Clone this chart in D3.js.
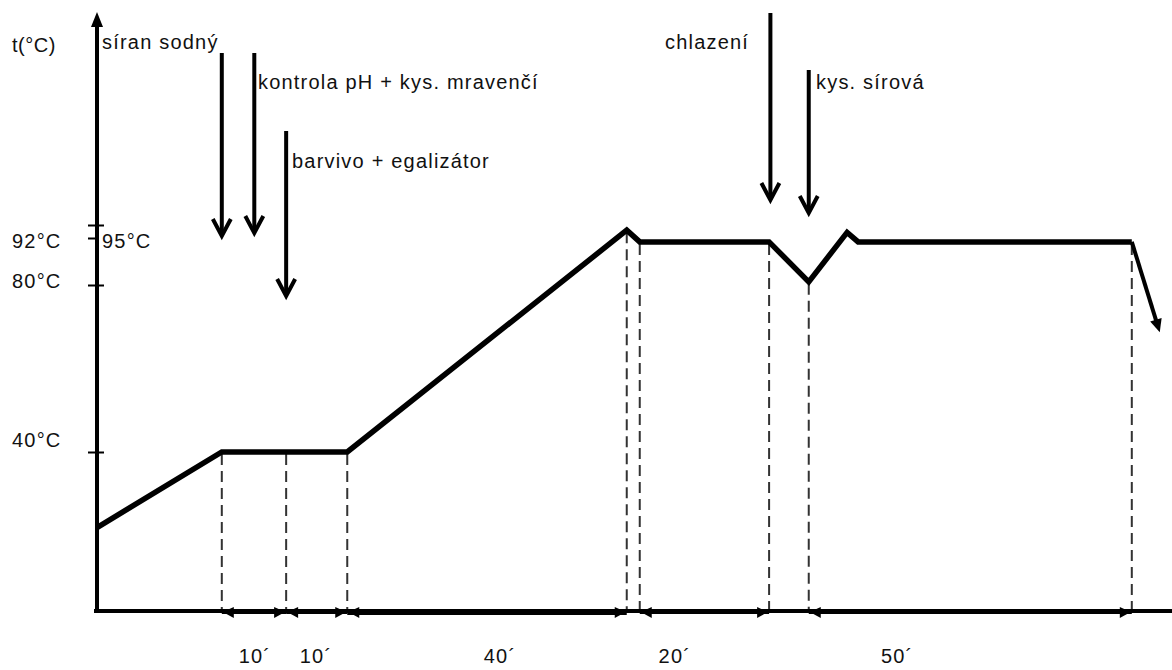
<!DOCTYPE html>
<html>
<head>
<meta charset="utf-8">
<script src="https://cdn.jsdelivr.net/npm/d3@7"></script>
<style>
  body { margin: 0; background: #fff; }
  text { font-family: "Liberation Sans", Arial, sans-serif; font-size: 20px; letter-spacing: 1.2px; fill: #111; }
</style>
</head>
<body>
<script>
// Width and height
var w = 1172;
var h = 670;

// Temperature profile (time in minutes, temperature in °C)
var profileTime = [0, 19.2, 38.5, 81.5, 83.5, 103.4, 109.5, 115.4, 117.1, 159.2];
var profileTemp = [21, 40, 40, 93.8, 91, 91, 80.8, 93.3, 91, 91];
// final cooling arrow
var coolTime = [159.2, 163.5];
var coolTemp = [91, 68.7];

// Dashed guides
var guideTime = [19.2, 29.1, 38.5, 81.5, 83.5, 103.4, 109.5, 159.2];

// Duration spans
var spanStart = [19.2, 29.1, 38.5, 83.5, 109.5];
var spanEnd = [29.1, 38.5, 81.5, 103.4, 159.2];
var spanLabels = ["10´", "10´", "40´", "20´", "50´"];
var spanLabelTime = [24.3, 33.7, 62, 88.9, 123.1];

// Y ticks
var yTicks = [40, 80, 92, 95];
var yTickLabels = ["40°C", "80°C", "92°C", "95°C"];

// Events (dosing / cooling)
var eventLabels = ["síran sodný", "kontrola pH + kys. mravenčí", "barvivo + egalizátor", "chlazení", "kys. sírová"];
var eventTime = [19.2, 24.2, 29.1, 103.6, 109.5];

// Scales
var xScale = d3.scaleLinear()
  .domain([0, 160])
  .range([97, 1137]);

var yScale = d3.scaleLinear()
  .domain([0, 40, 80, 92, 95])
  .range([611, 452, 285, 238, 225]);

var svg = d3.select("body")
  .append("svg")
  .attr("width", w)
  .attr("height", h);

// Dashed guides from curve down to the axis
var profile = profileTime.map(function(t, i) { return [t, profileTemp[i]]; });
function tempAt(t) {
  for (var i = 1; i < profile.length; i++) {
    if (t <= profile[i][0] + 1e-9) {
      var a = profile[i - 1], b = profile[i];
      return a[1] + (b[1] - a[1]) * (t - a[0]) / (b[0] - a[0]);
    }
  }
  return profile[profile.length - 1][1];
}

svg.selectAll("line.guide")
  .data(guideTime)
  .enter()
  .append("line")
  .attr("class", "guide")
  .attr("x1", function(d) { return xScale(d); })
  .attr("x2", function(d) { return xScale(d); })
  .attr("y1", function(d) { return yScale(tempAt(d)) + 2; })
  .attr("y2", yScale(0))
  .attr("stroke", "#333")
  .attr("stroke-width", 2)
  .attr("stroke-dasharray", "11,6");

// X axis
svg.append("line")
  .attr("x1", xScale(0) - 3)
  .attr("x2", w)
  .attr("y1", yScale(0))
  .attr("y2", yScale(0))
  .attr("stroke", "#000")
  .attr("stroke-width", 4);

// Y axis (with ticks)
var yAxis = d3.axisLeft(yScale)
  .tickValues(yTicks)
  .tickSize(9)
  .tickFormat("");

svg.append("g")
  .attr("transform", "translate(" + xScale(0) + ",0)")
  .call(yAxis)
  .call(function(g) { g.select(".domain").remove(); })
  .call(function(g) {
    g.selectAll(".tick line")
      .attr("x1", function(d) { return d === 92 ? 1 : 7; })
      .attr("stroke", "#000")
      .attr("stroke-width", 2);
  });

svg.append("line")
  .attr("x1", xScale(0))
  .attr("x2", xScale(0))
  .attr("y1", yScale(0) + 2)
  .attr("y2", 22)
  .attr("stroke", "#000")
  .attr("stroke-width", 4);

svg.append("path")
  .attr("d", "M" + (xScale(0) - 6) + ",27 L" + xScale(0) + ",12 L" + (xScale(0) + 6) + ",27 Z")
  .attr("fill", "#000");

// Y tick labels
svg.selectAll("text.ylab")
  .data(yTicks)
  .enter()
  .append("text")
  .attr("class", "ylab")
  .attr("x", function(d) { return d === 95 ? xScale(0) + 5 : 12; })
  .attr("y", function(d) { return d >= 92 ? yScale(92) + 10 : yScale(d) + 3 - (d === 40 ? 8 : 0); })
  .text(function(d, i) { return yTickLabels[i]; });

svg.append("text")
  .attr("x", 12)
  .attr("y", 52)
  .style("letter-spacing", "0.5px")
  .text("t(°C)");

// Duration spans with arrowheads on the axis
var spans = spanStart.map(function(s, i) { return { s: s, e: spanEnd[i], label: spanLabels[i], lt: spanLabelTime[i] }; });

svg.selectAll("line.span")
  .data(spans)
  .enter()
  .append("line")
  .attr("class", "span")
  .attr("x1", function(d) { return xScale(d.s); })
  .attr("x2", function(d) { return xScale(d.e); })
  .attr("y1", yScale(0) + 1)
  .attr("y2", yScale(0) + 1)
  .attr("stroke", "#000")
  .attr("stroke-width", function(d) { return d.label === "40´" ? 6 : 4; });

function headPath(x, y, dir) {
  // filled triangle, tip at x, pointing dir (+1 right, -1 left)
  return "M" + x + "," + y + " L" + (x - dir * 11) + "," + (y - 5) + " L" + (x - dir * 11) + "," + (y + 6) + " Z";
}

svg.selectAll("path.headL")
  .data(spans)
  .enter()
  .append("path")
  .attr("class", "headL")
  .attr("d", function(d) { return headPath(xScale(d.s) + 1, yScale(0) + 1, -1); })
  .attr("fill", "#000");

svg.selectAll("path.headR")
  .data(spans)
  .enter()
  .append("path")
  .attr("class", "headR")
  .attr("d", function(d) { return headPath(xScale(d.e) - 1, yScale(0) + 1, 1); })
  .attr("fill", "#000");

svg.selectAll("text.span")
  .data(spans)
  .enter()
  .append("text")
  .attr("class", "span")
  .attr("x", function(d) { return xScale(d.lt); })
  .attr("y", 663)
  .attr("text-anchor", "middle")
  .text(function(d) { return d.label; });

// Temperature curve
var line = d3.line()
  .x(function(d) { return xScale(d[0]); })
  .y(function(d) { return yScale(d[1]); });

svg.append("path")
  .datum(profile)
  .attr("d", line)
  .attr("fill", "none")
  .attr("stroke", "#000")
  .attr("stroke-width", 5.5)
  .attr("stroke-linejoin", "miter");

// Cooling arrow at the end
var cool = coolTime.map(function(t, i) { return [t, coolTemp[i]]; });
var cx0 = xScale(cool[0][0]), cy0 = yScale(cool[0][1]);
var cx1 = xScale(cool[1][0]), cy1 = yScale(cool[1][1]);
var ang = Math.atan2(cy1 - cy0, cx1 - cx0);
svg.append("line")
  .attr("x1", cx0)
  .attr("y1", cy0)
  .attr("x2", cx1 - 8 * Math.cos(ang))
  .attr("y2", cy1 - 8 * Math.sin(ang))
  .attr("stroke", "#000")
  .attr("stroke-width", 4);
svg.append("path")
  .attr("d", "M0,0 L-13,-6 L-13,6 Z")
  .attr("transform", "translate(" + cx1 + "," + cy1 + ") rotate(" + (ang * 180 / Math.PI) + ")")
  .attr("fill", "#000");

// Event arrows (top / bottom in px) and label anchors
var eventArrowTop = [53, 53, 131, 13, 70];
var eventArrowBottom = [236, 233, 296, 200, 213];
var eventLabelX = [102, 258, 292, 665, 816];
var eventLabelY = [49, 89, 168, 49, 89];

var events = eventLabels.map(function(l, i) {
  return { label: l, t: eventTime[i], top: eventArrowTop[i], bottom: eventArrowBottom[i], lx: eventLabelX[i], ly: eventLabelY[i] };
});

svg.selectAll("line.event")
  .data(events)
  .enter()
  .append("line")
  .attr("class", "event")
  .attr("x1", function(d) { return xScale(d.t); })
  .attr("x2", function(d) { return xScale(d.t); })
  .attr("y1", function(d) { return d.top; })
  .attr("y2", function(d) { return d.bottom - 2; })
  .attr("stroke", "#000")
  .attr("stroke-width", 4);

svg.selectAll("path.event")
  .data(events)
  .enter()
  .append("path")
  .attr("class", "event")
  .attr("d", function(d) {
    var x = xScale(d.t);
    return "M" + (x - 9) + "," + (d.bottom - 17) + " L" + x + "," + d.bottom + " L" + (x + 9) + "," + (d.bottom - 17);
  })
  .attr("fill", "none")
  .attr("stroke", "#000")
  .attr("stroke-width", 4);

svg.selectAll("text.event")
  .data(events)
  .enter()
  .append("text")
  .attr("class", "event")
  .attr("x", function(d) { return d.lx; })
  .attr("y", function(d) { return d.ly; })
  .text(function(d) { return d.label; });
</script>
</body>
</html>
